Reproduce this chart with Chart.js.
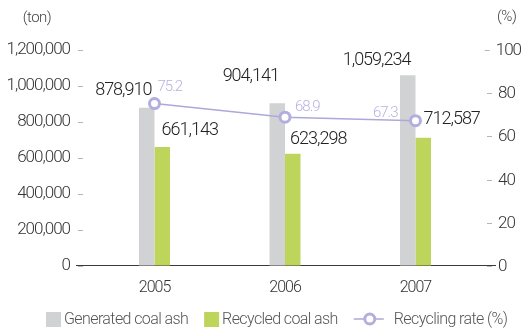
<!DOCTYPE html>
<html>
<head>
<meta charset="utf-8">
<script src="https://cdn.jsdelivr.net/npm/chart.js@4/dist/chart.umd.min.js"></script>
<style>
  html, body { margin: 0; padding: 0; background: #fff; }
  #wrap { width: 521px; height: 330px; }
</style>
</head>
<body>
<div id="wrap"><canvas id="c" width="521" height="330"></canvas></div>
<script>
// Coal ash produced and recycled per year, with the recycling rate
const years = [2005, 2006, 2007];
const generatedAsh = [878910, 904141, 1059234];
const recycledAsh = [661143, 623298, 712587];
const recyclingRate = [75.2, 68.9, 67.3];
const tonTicks = { min: 0, max: 1200000, step: 200000 };
const rateTicks = { min: 0, max: 100, step: 20 };
const seriesNames = ['Generated coal ash', 'Recycled coal ash', 'Recycling rate (%)'];
const axisUnits = ['(ton)', '(%)'];

const FONT = 'Roboto, "Liberation Sans", Arial, sans-serif';
const GRAY = '#d1d2d4';
const GREEN = '#bed55c';
const LAVENDER = '#aca8d9';
const LAVENDER_TEXT = '#b6b2df';
const TICK_GRAY = '#b5b5b5';

// label nudges relative to the mark they describe: [dx, dy]
const genLabelShift = [[-3, -17], [-6, -27], [-5, -15]];
const recLabelShift = [[7, -16], [5, -14], [8, -18]];
const rateLabelShift = [[3, -16, 'left'], [10, -10, 'left'], [-18, -7, 'right']];

const fmt = v => v.toLocaleString('en-US');

Chart.defaults.font.family = FONT;
Chart.defaults.color = '#333';

const tightText = {
  id: 'tightText',
  beforeUpdate(chart) { chart.ctx.letterSpacing = '-1px'; },
  beforeDraw(chart) { chart.ctx.letterSpacing = '-1px'; }
};

const annotate = {
  id: 'annotate',
  beforeDatasetsDraw(chart) {
    // baseline under the bars, running a little past both value axes
    const { ctx, chartArea, scales } = chart;
    const y0 = Math.round(scales.y.getPixelForValue(0)) - 0.5;
    ctx.save();
    ctx.strokeStyle = '#3a3a3a';
    ctx.lineWidth = 1;
    ctx.beginPath();
    ctx.moveTo(chartArea.left - 7, y0);
    ctx.lineTo(chartArea.right + 9, y0);
    ctx.stroke();
    ctx.restore();
  },
  afterDatasetsDraw(chart) {
    const { ctx } = chart;
    const gen = chart.getDatasetMeta(0).data;
    const rec = chart.getDatasetMeta(1).data;
    const rate = chart.getDatasetMeta(2).data;
    ctx.save();
    ctx.letterSpacing = '-1px';
    ctx.textBaseline = 'middle';
    ctx.font = '300 18px ' + FONT;
    ctx.fillStyle = '#222';
    gen.forEach((bar, i) => {
      ctx.textAlign = 'right';
      ctx.fillText(fmt(generatedAsh[i]), bar.x + bar.width / 2 + genLabelShift[i][0], bar.y + genLabelShift[i][1]);
    });
    rec.forEach((bar, i) => {
      ctx.textAlign = 'left';
      ctx.fillText(fmt(recycledAsh[i]), bar.x - bar.width / 2 + recLabelShift[i][0], bar.y + recLabelShift[i][1]);
    });
    ctx.font = '300 15px ' + FONT;
    ctx.fillStyle = LAVENDER_TEXT;
    rate.forEach((pt, i) => {
      const s = rateLabelShift[i];
      ctx.textAlign = s[2];
      ctx.fillText(recyclingRate[i].toFixed(1), pt.x + s[0], pt.y + s[1]);
    });
    ctx.restore();
  },
  afterDraw(chart) {
    const { ctx, chartArea, scales, width } = chart;
    ctx.save();

    // right-hand rate axis: tick marks and labels, pulled inward where a label would run off the edge
    const r = scales.y1;
    ctx.letterSpacing = '-1px';
    ctx.font = '300 17px ' + FONT;
    ctx.textBaseline = 'middle';
    ctx.textAlign = 'left';
    r.ticks.forEach(t => {
      const py = Math.round(r.getPixelForValue(t.value)) + 0.5;
      const label = String(t.value);
      const w = ctx.measureText(label).width;
      let lx = chartArea.right + 11;
      if (lx + w > width) lx = width - w;
      ctx.strokeStyle = TICK_GRAY;
      ctx.lineWidth = 1;
      ctx.beginPath();
      ctx.moveTo(lx - 11, py);
      ctx.lineTo(lx - 6, py);
      ctx.stroke();
      ctx.fillStyle = '#333';
      ctx.fillText(label, lx, py);
    });

    // axis unit captions
    ctx.letterSpacing = '-0.5px';
    ctx.font = '300 15px ' + FONT;
    ctx.fillStyle = '#444';
    ctx.textAlign = 'center';
    ctx.fillText(axisUnits[0], chartArea.left - 46, chartArea.top - 32);
    ctx.textAlign = 'left';
    ctx.fillText(axisUnits[1], chartArea.right + 10, chartArea.top - 33);

    // legend row
    ctx.letterSpacing = '-0.6px';
    ctx.font = '300 16px ' + FONT;
    const cy = 320;
    let x = 46;
    const swatches = [GRAY, GREEN];
    seriesNames.forEach((name, i) => {
      if (i < 2) {
        ctx.fillStyle = swatches[i];
        ctx.fillRect(x, cy - 8, 15, 15);
        x += 18;
      } else {
        ctx.strokeStyle = LAVENDER;
        ctx.lineWidth = 1.5;
        ctx.beginPath();
        ctx.moveTo(x, cy - 1);
        ctx.lineTo(x + 30, cy - 1);
        ctx.stroke();
        ctx.beginPath();
        ctx.arc(x + 16, cy - 1, 5, 0, Math.PI * 2);
        ctx.fillStyle = '#fff';
        ctx.fill();
        ctx.lineWidth = 3;
        ctx.strokeStyle = '#b2aedd';
        ctx.stroke();
        x += 40;
      }
      ctx.fillStyle = '#555';
      ctx.textAlign = 'left';
      ctx.fillText(name, x, cy);
      x += ctx.measureText(name).width + 16;
    });
    ctx.restore();
  }
};

new Chart(document.getElementById('c'), {
  type: 'bar',
  data: {
    datasets: [
      {
        label: seriesNames[0],
        data: years.map((y, i) => ({ x: y, y: generatedAsh[i] })),
        backgroundColor: GRAY,
        yAxisID: 'y',
        order: 2
      },
      {
        label: seriesNames[1],
        data: years.map((y, i) => ({ x: y, y: recycledAsh[i] })),
        backgroundColor: GREEN,
        yAxisID: 'y',
        order: 2
      },
      {
        type: 'line',
        label: seriesNames[2],
        data: years.map((y, i) => ({ x: y, y: recyclingRate[i] })),
        yAxisID: 'y1',
        borderColor: LAVENDER,
        borderWidth: 1.5,
        pointRadius: 5,
        pointBorderWidth: 3,
        pointBackgroundColor: '#fff',
        pointBorderColor: '#b2aedd',
        order: 1
      }
    ]
  },
  options: {
    responsive: false,
    animation: false,
    devicePixelRatio: 1,
    categoryPercentage: 0.2375,
    barPercentage: 1,
    layout: { padding: { top: 50, left: 0, right: 0, bottom: 0 } },
    plugins: { legend: { display: false }, tooltip: { enabled: false } },
    scales: {
      x: {
        type: 'linear',
        offset: false,
        min: years[0] - 0.548,
        max: years[years.length - 1] + 0.548,
        grid: { display: false, drawTicks: false },
        border: { display: false },
        ticks: {
          stepSize: 1,
          includeBounds: false,
          padding: 12,
          color: '#333',
          font: { size: 16, weight: '300' },
          callback: v => String(v)
        },
        afterFit(s) { s.height = 64; }
      },
      y: {
        position: 'left',
        min: tonTicks.min,
        max: tonTicks.max,
        grid: { drawOnChartArea: false, drawTicks: true, tickLength: 5, color: TICK_GRAY },
        border: { display: false },
        ticks: {
          stepSize: tonTicks.step,
          padding: 8,
          color: '#333',
          font: { size: 17, weight: '300' },
          callback: v => fmt(v)
        },
        afterFit(s) { s.width = 83; }
      },
      y1: {
        position: 'right',
        min: rateTicks.min,
        max: rateTicks.max,
        grid: { drawOnChartArea: false, drawTicks: false },
        border: { display: false },
        ticks: { stepSize: rateTicks.step, display: false },
        afterFit(s) { s.width = 34; }
      }
    }
  },
  plugins: [tightText, annotate]
});
</script>
</body>
</html>
